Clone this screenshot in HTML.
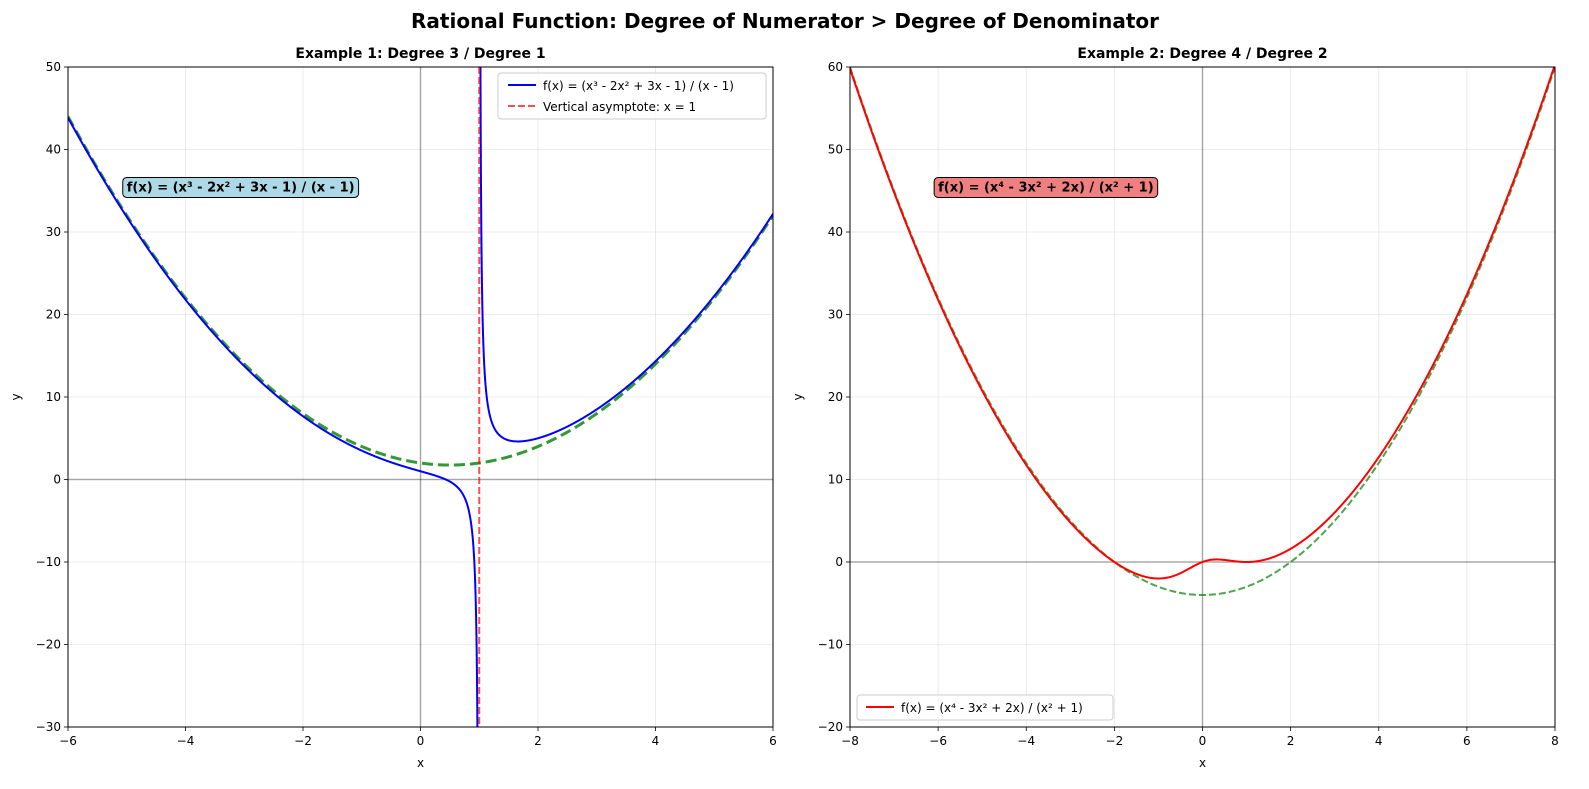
<!DOCTYPE html>
<html><head><meta charset="utf-8">
<style>
html,body{margin:0;padding:0;background:#fff;width:1589px;height:789px;overflow:hidden;}
svg{display:block;font-family:"DejaVu Sans","Liberation Sans",sans-serif;}
</style></head>
<body>
<svg id="chart" width="1589" height="789" xmlns="http://www.w3.org/2000/svg">
<text x="785" y="28" text-anchor="middle" font-size="20" font-weight="bold">Rational Function: Degree of Numerator &gt; Degree of Denominator</text>
</svg>
<script>
// Example 1 data: coefficients (highest power first)
const num1 = [1, -2, 3, -1];
const den1 = [1, -1];
const asym1 = [1, -1, 2];
const vAsym1 = 1;
const xTicks1 = [-6,-4,-2,0,2,4,6];
const yTicks1 = [-30,-20,-10,0,10,20,30,40,50];
// Example 2 data
const num2 = [1, 0, -3, 2, 0];
const den2 = [1, 0, 1];
const asym2 = [1, 0, -4];
const xTicks2 = [-8,-6,-4,-2,0,2,4,6,8];
const yTicks2 = [-20,-10,0,10,20,30,40,50,60];

const NS="http://www.w3.org/2000/svg";
const svg=document.getElementById('chart');
function mk(tag,attrs,parent){const e=document.createElementNS(NS,tag);for(const k in attrs)e.setAttribute(k,attrs[k]);(parent||svg).appendChild(e);return e;}
function poly(c,x){let v=0;for(const a of c)v=v*x+a;return v;}
function fmt(v){return v<0?'\u2212'+(-v):''+v;}

function axes(id,L,T,W,H,xr,yr,xt,yt,title){
  const g=mk('g',{});
  
  
  const sx=x=>L+(x-xr[0])/(xr[1]-xr[0])*W;
  const sy=y=>T+(yr[1]-y)/(yr[1]-yr[0])*H;
  const cp=mk('clipPath',{id:'clip-'+id},g);mk('rect',{x:L,y:T,width:W,height:H},cp);
  const grid=mk('g',{},g);
  
  
  xt.forEach(v=>{mk('line',{x1:sx(v),x2:sx(v),y1:T,y2:T+H,stroke:'#b0b0b0','stroke-opacity':0.3,'stroke-width':0.8},grid);});
  yt.forEach(v=>{mk('line',{x1:L,x2:L+W,y1:sy(v),y2:sy(v),stroke:'#b0b0b0','stroke-opacity':0.3,'stroke-width':0.8},grid);});
  mk('line',{x1:L,x2:L+W,y1:sy(0),y2:sy(0),stroke:'#000','stroke-opacity':0.3,'stroke-width':1.5},g);
  mk('line',{x1:sx(0),x2:sx(0),y1:T,y2:T+H,stroke:'#000','stroke-opacity':0.3,'stroke-width':1.5},g);
  const plot=mk('g',{'clip-path':'url(#clip-'+id+')'},g);
  xt.forEach(v=>{mk('line',{x1:sx(v),x2:sx(v),y1:T+H,y2:T+H+4,stroke:'#000','stroke-width':0.8},g);
    const t=mk('text',{x:sx(v),y:T+H+18,'text-anchor':'middle','font-size':12},g);t.textContent=fmt(v);
    });
  yt.forEach(v=>{mk('line',{x1:L-4,x2:L,y1:sy(v),y2:sy(v),stroke:'#000','stroke-width':0.8},g);
    const t=mk('text',{x:L-7,y:sy(v)+4,'text-anchor':'end','font-size':12},g);t.textContent=fmt(v);
    });
  const xl=mk('text',{x:L+W/2,y:T+H+40,'text-anchor':'middle','font-size':12},g);xl.textContent='x';
  
  const yl=mk('text',{x:0,y:0,'text-anchor':'middle','font-size':12,transform:`translate(${L-48},${T+H/2}) rotate(-90)`},g);yl.textContent='y';
  
  const tt=mk('text',{x:L+W/2,y:T-9,'text-anchor':'middle','font-size':14,'font-weight':'bold'},g);tt.textContent=title;
  
  return {g,plot,sx,sy,L,T,W,H,frame:()=>mk('rect',{x:L,y:T,width:W,height:H,fill:'none',stroke:'#000','stroke-width':1},g)};
}
function curve(ax,f,x0,x1,n,attrs,name){
  let d='';
  for(let i=0;i<=n;i++){const x=x0+(x1-x0)*i/n;let y=f(x);y=Math.max(-1e4,Math.min(1e4,y));d+=(i?'L':'M')+ax.sx(x).toFixed(2)+','+ax.sy(y).toFixed(2);}
  const p=mk('path',Object.assign({d,fill:'none'},attrs),ax.plot);
  
  return p;
}
function label(ax,x,y,text,bg,name){
  const g=mk('g',{},ax.g);
  
  const t=mk('text',{x:ax.sx(x),y:ax.sy(y)+4,'font-size':13,'font-weight':'bold'},g);t.textContent=text;
  const w=t.getComputedTextLength();
  const r=mk('rect',{x:ax.sx(x)-4,y:ax.sy(y)-10,width:w+8,height:20,rx:4,fill:bg,stroke:'#000','stroke-width':1});
  g.insertBefore(r,t);
}

// Example 1
const a1=axes('ex1',68,67,705,660,[-6,6],[-30,50],xTicks1,yTicks1,'Example 1: Degree 3 / Degree 1');
const f1=x=>poly(num1,x)/poly(den1,x);
curve(a1,x=>poly(asym1,x),-6,6,400,{stroke:'#008000','stroke-opacity':0.8,'stroke-width':3,'stroke-dasharray':'11,5'},'slant-asymptote-curve');
curve(a1,f1,-6,vAsym1-0.0005,3000,{stroke:'#0000ff','stroke-width':2},'f1-curve-left');
curve(a1,f1,vAsym1+0.0005,6,3000,{stroke:'#0000ff','stroke-width':2},'f1-curve-right');
const va=mk('line',{x1:a1.sx(vAsym1),x2:a1.sx(vAsym1),y1:a1.T,y2:a1.T+a1.H,stroke:'#ff0000','stroke-opacity':0.7,'stroke-width':2,'stroke-dasharray':'7,3'},a1.plot);

a1.frame();
label(a1,-5,35.4,'f(x) = (x³ - 2x² + 3x - 1) / (x - 1)','#add8e6','ex1-formula-box');
(function(){const g=mk('g',{},a1.g);
 mk('rect',{x:498,y:73,width:268,height:46,rx:3,fill:'#fff','fill-opacity':0.8,stroke:'#ccc'},g);
 mk('line',{x1:508,x2:536,y1:85,y2:85,stroke:'#0000ff','stroke-width':2},g);
 let t=mk('text',{x:543,y:90,'font-size':12},g);t.textContent='f(x) = (x³ - 2x² + 3x - 1) / (x - 1)';
 mk('line',{x1:508,x2:536,y1:106,y2:106,stroke:'#ff0000','stroke-opacity':0.7,'stroke-width':2,'stroke-dasharray':'7,3'},g);
 t=mk('text',{x:543,y:111,'font-size':12},g);t.textContent='Vertical asymptote: x = 1';})();

// Example 2
const a2=axes('ex2',850,67,705,660,[-8,8],[-20,60],xTicks2,yTicks2,'Example 2: Degree 4 / Degree 2');
curve(a2,x=>poly(asym2,x),-8,8,400,{stroke:'#008000','stroke-opacity':0.7,'stroke-width':2,'stroke-dasharray':'7,3'},'parabolic-asymptote-curve');
curve(a2,x=>poly(num2,x)/poly(den2,x),-8,8,1000,{stroke:'#ff0000','stroke-width':2},'f2-curve');
a2.frame();
label(a2,-6,45.4,'f(x) = (x⁴ - 3x² + 2x) / (x² + 1)','#f08080','ex2-formula-box');
(function(){const g=mk('g',{},a2.g);
 mk('rect',{x:857,y:695,width:256,height:25,rx:3,fill:'#fff','fill-opacity':0.8,stroke:'#ccc'},g);
 mk('line',{x1:866,x2:894,y1:707,y2:707,stroke:'#ff0000','stroke-width':2},g);
 const t=mk('text',{x:901,y:712,'font-size':12},g);t.textContent='f(x) = (x⁴ - 3x² + 2x) / (x² + 1)';})();
</script>
</body></html>
